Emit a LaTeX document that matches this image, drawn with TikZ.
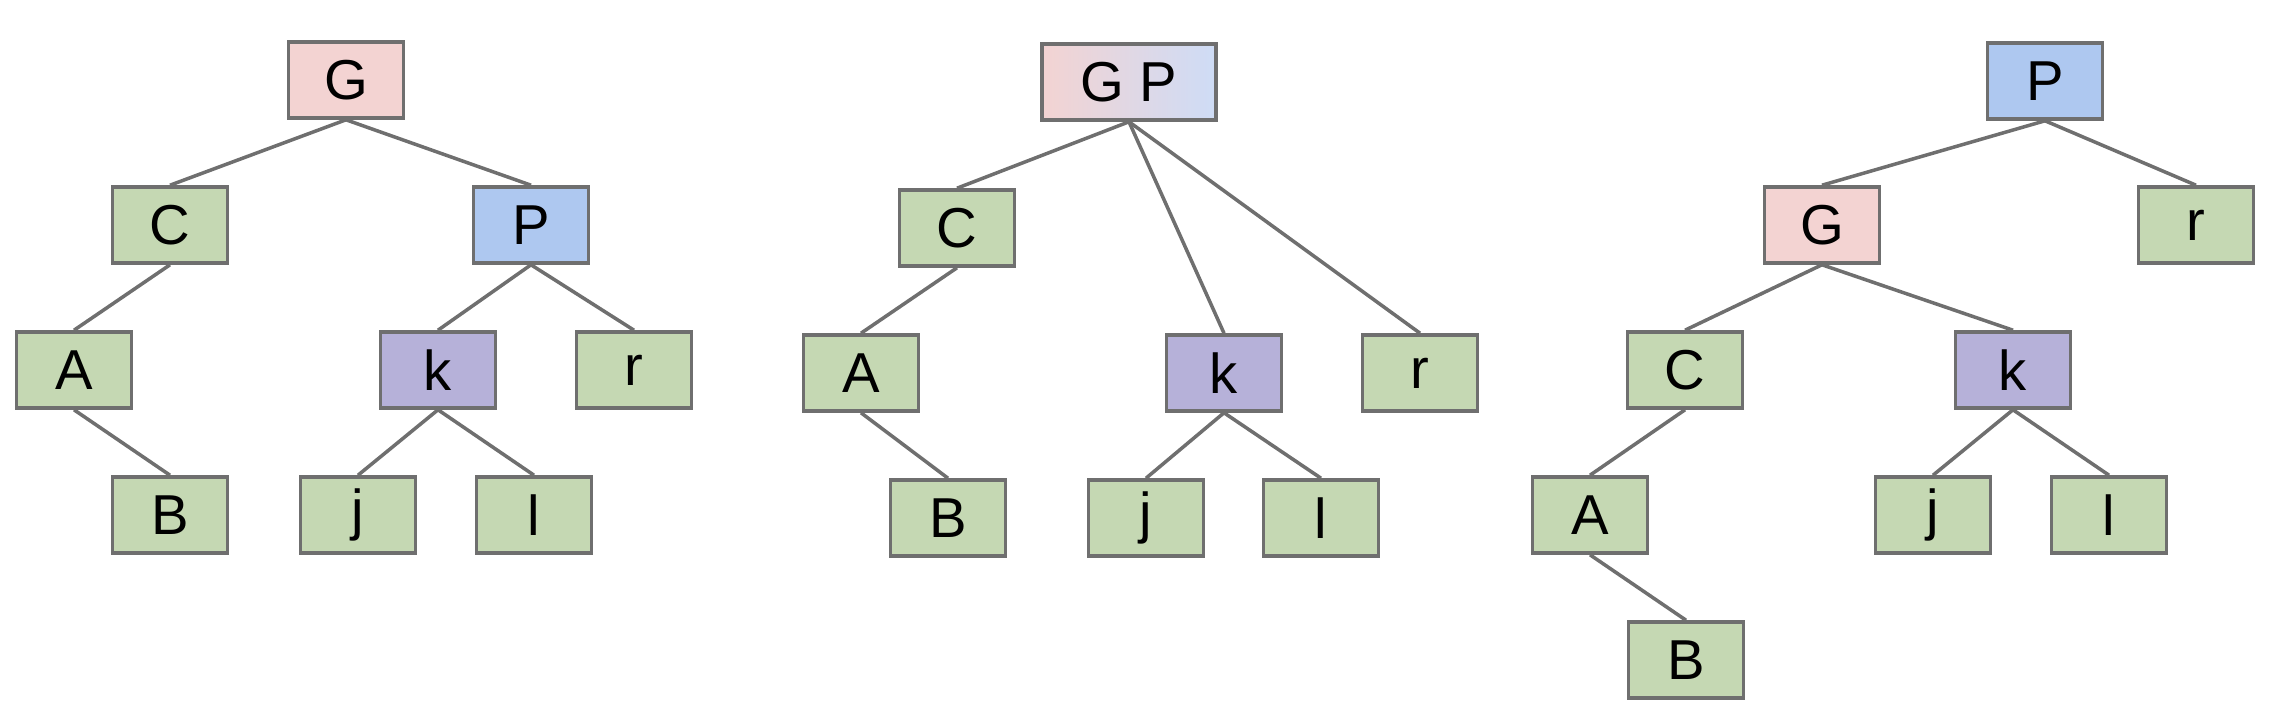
\documentclass[tikz,border=0pt]{standalone}
\usepackage{fontspec}
\setmainfont{Liberation Sans}
\definecolor{boxline}{HTML}{6F6F6F}
\definecolor{redbox}{HTML}{F3D3D2}
\definecolor{greenbox}{HTML}{C5D8B3}
\definecolor{bluebox}{HTML}{AEC8F0}
\definecolor{purplebox}{HTML}{B6B1D9}
\definecolor{paleblue}{HTML}{CEDCF6}
\tikzset{
  box/.style={draw=boxline,line width=1pt,minimum width=1.15cm,minimum height=0.76cm,
    inner sep=0pt,font=\fontsize{16}{18}\selectfont},
  leaf/.style={box,fill=greenbox},
  edge/.style={draw=boxline,line width=1pt}
}
\begin{document}
\begin{tikzpicture}[x=0.01cm,y=-0.01cm]
        \useasboundingbox (0,0) rectangle (2274,718);
        % left tree
        \node[box,fill=redbox](G1)at(346,80){G};
        \node[leaf](C1)at(170,225){C};
        \node[box,fill=bluebox](P1)at(531,225){P};
        \node[leaf](A1)at(74,370){A};
        \node[box,fill=purplebox](k1)at(438,370){k};
        \node[leaf](r1)at(634,370){r};
        \node[leaf](B1)at(170,515){B};
        \node[leaf](j1)at(358,515){j};
        \node[leaf](l1)at(534,515){l};
        \draw[edge](G1.south)--(C1.north);
        \draw[edge](G1.south)--(P1.north);
        \draw[edge](C1.south)--(A1.north);
        \draw[edge](A1.south)--(B1.north);
        \draw[edge](P1.south)--(k1.north);
        \draw[edge](P1.south)--(r1.north);
        \draw[edge](k1.south)--(j1.north);
        \draw[edge](k1.south)--(l1.north);
        % middle tree
        \node[box,minimum width=1.74cm,left color=redbox,right color=paleblue](GP2)at(1129,82){G P};
        \node[leaf](C2)at(957,228){C};
        \node[leaf](A2)at(861,373){A};
        \node[leaf](B2)at(948,518){B};
        \node[box,fill=purplebox](k2)at(1224,373){k};
        \node[leaf](r2)at(1420,373){r};
        \node[leaf](j2)at(1146,518){j};
        \node[leaf](l2)at(1321,518){l};
        \draw[edge](GP2.south)--(C2.north);
        \draw[edge](GP2.south)--(k2.north);
        \draw[edge](GP2.south)--(r2.north);
        \draw[edge](C2.south)--(A2.north);
        \draw[edge](A2.south)--(B2.north);
        \draw[edge](k2.south)--(j2.north);
        \draw[edge](k2.south)--(l2.north);
        % right tree
        \node[box,fill=bluebox](P3)at(2045,81){P};
        \node[box,fill=redbox](G3)at(1822,225){G};
        \node[leaf](r3)at(2196,225){r};
        \node[leaf](C3)at(1685,370){C};
        \node[box,fill=purplebox](k3)at(2013,370){k};
        \node[leaf](A3)at(1590,515){A};
        \node[leaf](j3)at(1933,515){j};
        \node[leaf](l3)at(2109,515){l};
        \node[leaf](B3)at(1686,660){B};
        \draw[edge](P3.south)--(G3.north);
        \draw[edge](P3.south)--(r3.north);
        \draw[edge](G3.south)--(C3.north);
        \draw[edge](G3.south)--(k3.north);
        \draw[edge](C3.south)--(A3.north);
        \draw[edge](A3.south)--(B3.north);
        \draw[edge](k3.south)--(j3.north);
        \draw[edge](k3.south)--(l3.north);
    \end{tikzpicture}
\end{document}
